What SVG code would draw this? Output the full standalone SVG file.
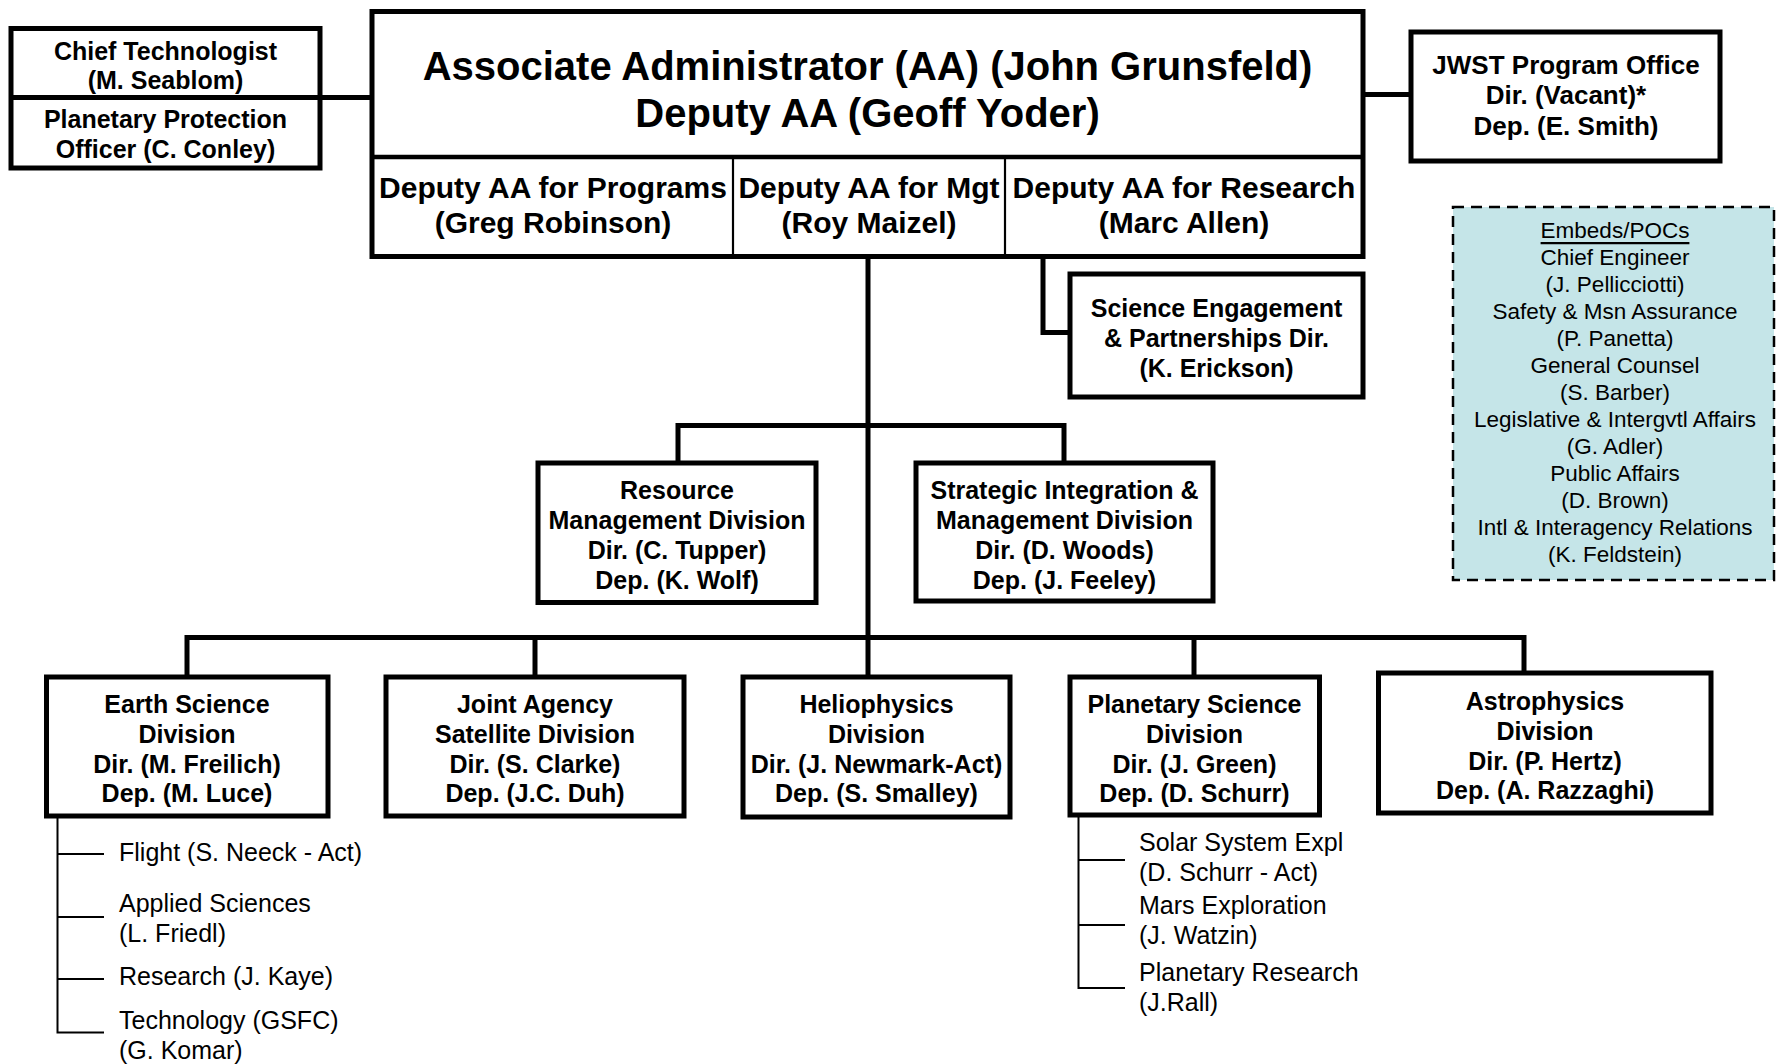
<svg xmlns="http://www.w3.org/2000/svg" width="1779" height="1064" viewBox="0 0 1779 1064">
<style>
.box{fill:#fff;stroke:#000;stroke-width:5}
.thin{stroke:#000;stroke-width:2.2;fill:none}
.conn{stroke:#000;stroke-width:5;fill:none;stroke-linejoin:miter}
.sub{stroke:#000;stroke-width:2;fill:none}
text{font-family:"Liberation Sans",Arial,sans-serif;fill:#000;dominant-baseline:central}
.b{font-weight:bold;font-size:25px;text-anchor:middle}
.t{font-weight:bold;font-size:40px;text-anchor:middle}
.d{font-weight:bold;font-size:30px;text-anchor:middle}
.j{font-weight:bold;font-size:26px;text-anchor:middle}
.e{font-size:22.5px;text-anchor:middle}
.s{font-size:25px}
.emb{fill:#c5e5e8;stroke:#000;stroke-width:2.5;stroke-dasharray:11 7}
</style>
<rect width="1779" height="1064" fill="#fff"/>
<g id="connectors">
<path class="conn" d="M320 97.5H372"/>
<path class="conn" d="M1363 94.5H1411"/>
<path class="conn" d="M1043 256V332.5H1070"/>
<path class="conn" d="M868 256V677"/>
<path class="conn" d="M678 463V425.5H1064V463"/>
<path class="conn" d="M187 677V637.5H1524V673"/>
<path class="conn" d="M535 637.5V677"/>
<path class="conn" d="M1194 637.5V677"/>
<path class="sub" d="M57.5 815V1032.5H104M57.5 854H104M57.5 917H104M57.5 979H104"/>
<path class="sub" d="M1078.5 815V988H1125M1078.5 860H1125M1078.5 925H1125"/>
</g>
<g id="node-left">
<rect class="box" x="11" y="28.5" width="309" height="139.5"/>
<line x1="11" y1="97.5" x2="320" y2="97.5" stroke="#000" stroke-width="5"/>
<text class="b" x="165.5" y="51">Chief Technologist</text>
<text class="b" x="165.5" y="80">(M. Seablom)</text>
<text class="b" x="165.5" y="119">Planetary Protection</text>
<text class="b" x="165.5" y="149">Officer (C. Conley)</text>
</g>
<g id="node-aa">
<rect class="box" x="372" y="11.5" width="991" height="245"/>
<line x1="372" y1="157" x2="1363" y2="157" stroke="#000" stroke-width="4.5"/>
<line class="thin" x1="733" y1="157" x2="733" y2="256"/>
<line class="thin" x1="1005" y1="157" x2="1005" y2="256"/>
<text class="t" x="867.5" y="66">Associate Administrator (AA) (John Grunsfeld)</text>
<text class="t" x="867.5" y="112.5">Deputy AA (Geoff Yoder)</text>
<text class="d" x="553" y="187">Deputy AA for Programs</text>
<text class="d" x="553" y="222">(Greg Robinson)</text>
<text class="d" x="869" y="187">Deputy AA for Mgt</text>
<text class="d" x="869" y="222">(Roy Maizel)</text>
<text class="d" x="1184" y="187">Deputy AA for Research</text>
<text class="d" x="1184" y="222">(Marc Allen)</text>
</g>
<g id="node-jwst">
<rect class="box" x="1411" y="32" width="309" height="129"/>
<text class="j" x="1566" y="65">JWST Program Office</text>
<text class="j" x="1566" y="94.5">Dir. (Vacant)*</text>
<text class="j" x="1566" y="126">Dep. (E. Smith)</text>
</g>
<g id="node-embeds">
<rect class="emb" x="1453" y="207" width="321" height="373"/>
<text class="e" x="1615" y="230.5" text-decoration="underline">Embeds/POCs</text>
<text class="e" x="1615" y="257.5">Chief Engineer</text>
<text class="e" x="1615" y="284.5">(J. Pellicciotti)</text>
<text class="e" x="1615" y="311.5">Safety &amp; Msn Assurance</text>
<text class="e" x="1615" y="338.5">(P. Panetta)</text>
<text class="e" x="1615" y="365.5">General Counsel</text>
<text class="e" x="1615" y="392.5">(S. Barber)</text>
<text class="e" x="1615" y="419.5">Legislative &amp; Intergvtl Affairs</text>
<text class="e" x="1615" y="446.5">(G. Adler)</text>
<text class="e" x="1615" y="473.5">Public Affairs</text>
<text class="e" x="1615" y="500.5">(D. Brown)</text>
<text class="e" x="1615" y="527.5">Intl &amp; Interagency Relations</text>
<text class="e" x="1615" y="554.5">(K. Feldstein)</text>
</g>
<g id="node-sci">
<rect class="box" x="1070" y="274" width="293" height="123"/>
<text class="b" x="1216.5" y="307.5">Science Engagement</text>
<text class="b" x="1216.5" y="337.5">&amp; Partnerships Dir.</text>
<text class="b" x="1216.5" y="368">(K. Erickson)</text>
</g>
<g id="node-resource">
<rect class="box" x="538" y="463" width="278" height="139.5"/>
<text class="b" x="677" y="490">Resource</text>
<text class="b" x="677" y="520">Management Division</text>
<text class="b" x="677" y="550">Dir. (C. Tupper)</text>
<text class="b" x="677" y="580">Dep. (K. Wolf)</text>
</g>
<g id="node-strategic">
<rect class="box" x="916" y="463" width="297" height="138"/>
<text class="b" x="1064.5" y="490">Strategic Integration &amp;</text>
<text class="b" x="1064.5" y="520">Management Division</text>
<text class="b" x="1064.5" y="550">Dir. (D. Woods)</text>
<text class="b" x="1064.5" y="580">Dep. (J. Feeley)</text>
</g>
<g id="node-earth">
<rect class="box" x="46.5" y="677" width="281.5" height="139"/>
<text class="b" x="187" y="704">Earth Science</text>
<text class="b" x="187" y="733.5">Division</text>
<text class="b" x="187" y="763.5">Dir. (M. Freilich)</text>
<text class="b" x="187" y="793">Dep. (M. Luce)</text>
</g>
<g id="node-joint">
<rect class="box" x="386" y="677" width="298" height="139"/>
<text class="b" x="535" y="704">Joint Agency</text>
<text class="b" x="535" y="733.5">Satellite Division</text>
<text class="b" x="535" y="763.5">Dir. (S. Clarke)</text>
<text class="b" x="535" y="793">Dep. (J.C. Duh)</text>
</g>
<g id="node-helio">
<rect class="box" x="743" y="677" width="267" height="140"/>
<text class="b" x="876.5" y="704">Heliophysics</text>
<text class="b" x="876.5" y="733.5">Division</text>
<text class="b" x="876.5" y="763.5">Dir. (J. Newmark-Act)</text>
<text class="b" x="876.5" y="793">Dep. (S. Smalley)</text>
</g>
<g id="node-planetary">
<rect class="box" x="1070" y="677" width="249.5" height="138"/>
<text class="b" x="1194.5" y="704">Planetary Science</text>
<text class="b" x="1194.5" y="733.5">Division</text>
<text class="b" x="1194.5" y="763.5">Dir. (J. Green)</text>
<text class="b" x="1194.5" y="793">Dep. (D. Schurr)</text>
</g>
<g id="node-astro">
<rect class="box" x="1378.5" y="673" width="332.5" height="140"/>
<text class="b" x="1545" y="701">Astrophysics</text>
<text class="b" x="1545" y="730.5">Division</text>
<text class="b" x="1545" y="760.5">Dir. (P. Hertz)</text>
<text class="b" x="1545" y="790">Dep. (A. Razzaghi)</text>
</g>
<g id="earth-branches">
<text class="s" x="119" y="852">Flight (S. Neeck - Act)</text>
<text class="s" x="119" y="903">Applied Sciences</text>
<text class="s" x="119" y="933">(L. Friedl)</text>
<text class="s" x="119" y="976">Research (J. Kaye)</text>
<text class="s" x="119" y="1020">Technology (GSFC)</text>
<text class="s" x="119" y="1050">(G. Komar)</text>
</g>
<g id="planetary-branches">
<text class="s" x="1139" y="842">Solar System Expl</text>
<text class="s" x="1139" y="872">(D. Schurr - Act)</text>
<text class="s" x="1139" y="905">Mars Exploration</text>
<text class="s" x="1139" y="935">(J. Watzin)</text>
<text class="s" x="1139" y="972">Planetary Research</text>
<text class="s" x="1139" y="1002">(J.Rall)</text>
</g>
</svg>
